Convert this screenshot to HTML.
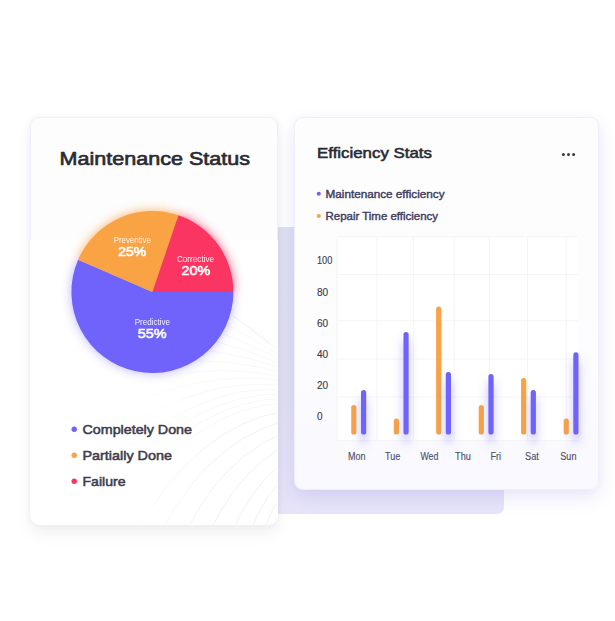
<!DOCTYPE html>
<html lang="en">
<head>
<meta charset="utf-8">
<title>Maintenance Dashboard</title>
<style>
html,body{margin:0;padding:0;}
body{width:615px;height:621px;background:#fff;position:relative;overflow:hidden;font-family:"Liberation Sans",sans-serif;}
.panel{position:absolute;left:262px;top:226.5px;width:242px;height:287px;background:linear-gradient(180deg,#e0e0f3 0%,#e2e0f5 60%,#e7e4fa 100%);border-radius:0 0 7px 0;}
.card{position:absolute;box-sizing:border-box;border-radius:9px;}
.c1{left:29.5px;top:116.5px;width:248px;height:408.5px;background:#fff;box-shadow:0 10px 14px rgba(80,80,120,.07),0 0 4px 2px rgba(80,80,120,.04);}
.c1 .top{position:absolute;box-sizing:border-box;left:0;top:0;width:248px;height:123.5px;background:#fdfdfe;border:1px solid #eeeefc;border-bottom:0;border-radius:9px 9px 0 0;}
.c2{left:293.5px;top:116.5px;width:305px;height:373px;background:linear-gradient(180deg,#fdfdfe 0%,#fdfdfe 55%,#f9f8fe 100%);border:1px solid #eeeefc;box-shadow:0 8px 18px rgba(120,110,220,.16),0 0 8px rgba(120,110,200,.04);}
svg{position:absolute;left:0;top:0;}
text{font-family:"Liberation Sans",sans-serif;}
</style>
</head>
<body>
<div class="panel"></div>
<div class="card c1"><div class="top"></div></div>
<div class="card c2"></div>
<svg width="615" height="621" viewBox="0 0 615 621">
<defs>
<filter id="bglow" x="-400%" y="-30%" width="900%" height="180%"><feDropShadow dx="0" dy="8" stdDeviation="5" flood-color="#6f63fb" flood-opacity=".5"/></filter>
<filter id="pglow" x="-30%" y="-30%" width="160%" height="160%"><feGaussianBlur stdDeviation="5.5"/></filter>
<linearGradient id="fade" gradientUnits="userSpaceOnUse" x1="110" y1="0" x2="215" y2="0"><stop offset="0" stop-color="#e4e7e8" stop-opacity="0"/><stop offset="1" stop-color="#e4e7e8" stop-opacity="1"/></linearGradient>
<clipPath id="c1clip"><rect x="30.5" y="117.5" width="246" height="407" rx="8"/></clipPath>
</defs>
<g clip-path="url(#c1clip)" fill="none" stroke="url(#fade)" stroke-width=".6">
<path d="M282.0,352.9 Q219.0,303.7 119.5,236.6" opacity="1"/>
<path d="M282.0,356.7 Q214.0,313.7 103.9,266.1" opacity="0.55"/>
<path d="M282.0,360.7 Q210.6,322.7 94.4,293.1" opacity="0.55"/>
<path d="M282.0,364.7 Q207.9,331.5 88.5,319.7" opacity="0.55"/>
<path d="M282.0,368.9 Q205.6,340.2 85.7,346.0" opacity="0.55"/>
<path d="M282.0,373.0 Q203.6,348.8 85.8,371.8" opacity="0.55"/>
<path d="M282.0,377.2 Q202.0,357.4 88.6,396.8" opacity="0.55"/>
<path d="M282.0,381.4 Q200.6,366.0 93.8,420.7" opacity="0.55"/>
<path d="M282.0,385.7 Q199.5,374.6 101.3,443.5" opacity="0.55"/>
<path d="M282.0,389.9 Q198.6,383.1 110.7,464.8" opacity="0.55"/>
<path d="M282.0,394.2 Q198.0,391.6 118.1,481.1" opacity="0.55"/>
<path d="M282.0,398.4 Q197.5,400.1 122.2,493.5" opacity="0.55"/>
<path d="M282.0,402.7 Q197.3,408.5 126.7,505.5" opacity="0.55"/>
<path d="M282.0,411.7 Q197.5,426.3 137.2,530.1" opacity="1"/>
<path d="M282.0,421.6 Q198.7,445.4 149.8,555.0" opacity="1"/>
<path d="M282.0,433.5 Q201.3,468.1 166.6,582.9" opacity="1"/>
<path d="M282.0,447.0 Q205.8,493.2 187.5,611.8" opacity="1"/>
<path d="M282.0,462.7 Q212.9,521.5 213.8,641.5" opacity="1"/>
<path d="M282.0,478.2 Q221.9,548.1 241.3,666.5" opacity="1"/>
<path d="M282.0,492.7 Q232.1,571.9 268.7,686.2" opacity="1"/>
<path d="M282.0,504.3 Q241.9,590.4 292.6,699.1" opacity="1"/>
</g>
<!-- chart grid -->
<rect x="337" y="237" width="241" height="204" fill="#fff"/>
<g stroke="#f4f4f8" stroke-width="1">
<path d="M337,236.7H578M337,274.5H578M337,320.8H578M337,359H578M337,397H578M337,440.6H578"/>
<path d="M337,237V441M377,237V441M413.4,237V441M454.3,237V441M489.4,237V441M527.5,237V441M566.2,237V441"/>
</g>
<g>
<rect x="351.20" y="405.00" width="5.2" height="29.50" rx="2.6" fill="#f9a344"/>
<rect x="361.00" y="390.00" width="5.2" height="44.50" rx="2.6" fill="#6f63fb" filter="url(#bglow)"/>
<rect x="393.80" y="418.40" width="5.2" height="16.10" rx="2.6" fill="#f9a344"/>
<rect x="403.45" y="332.00" width="5.2" height="102.50" rx="2.6" fill="#6f63fb" filter="url(#bglow)"/>
<rect x="436.10" y="306.50" width="5.2" height="128.00" rx="2.6" fill="#f9a344"/>
<rect x="445.80" y="372.00" width="5.2" height="62.50" rx="2.6" fill="#6f63fb" filter="url(#bglow)"/>
<rect x="478.70" y="405.00" width="5.2" height="29.50" rx="2.6" fill="#f9a344"/>
<rect x="488.40" y="374.00" width="5.2" height="60.50" rx="2.6" fill="#6f63fb" filter="url(#bglow)"/>
<rect x="521.05" y="378.00" width="5.2" height="56.50" rx="2.6" fill="#f9a344"/>
<rect x="530.70" y="390.00" width="5.2" height="44.50" rx="2.6" fill="#6f63fb" filter="url(#bglow)"/>
<rect x="563.65" y="418.40" width="5.2" height="16.10" rx="2.6" fill="#f9a344"/>
<rect x="573.30" y="352.30" width="5.2" height="82.20" rx="2.6" fill="#6f63fb" filter="url(#bglow)"/>
</g>
<!-- pie -->
<g filter="url(#pglow)" opacity=".85">
<path d="M152.40,292.00 L233.40,292.00 A81.0,81.0 0 0 0 178.50,215.32 Z" fill="#fb3561"/>
<path d="M152.40,292.00 L178.50,215.32 A81.0,81.0 0 0 0 78.12,259.70 Z" fill="#f9a344"/>
<path d="M152.40,292.00 L78.12,259.70 A81.0,81.0 0 1 0 233.40,292.00 Z" fill="#6f63fb" opacity=".55"/>
</g>
<path d="M152.40,292.00 L78.12,259.70 A81.0,81.0 0 1 0 233.40,292.00 Z" fill="#6f63fb"/>
<path d="M152.40,292.00 L178.50,215.32 A81.0,81.0 0 0 0 78.12,259.70 Z" fill="#f9a344"/>
<path d="M152.40,292.00 L233.40,292.00 A81.0,81.0 0 0 0 178.50,215.32 Z" fill="#fb3561"/>
<g fill="#fff" text-anchor="middle">
<text x="132.3" y="242.9" font-size="8.4" opacity=".9" textLength="37.2" lengthAdjust="spacingAndGlyphs">Preventive</text>
<text x="132.2" y="256.2" font-size="12.5" stroke="#fff" stroke-width=".5" textLength="28" lengthAdjust="spacingAndGlyphs">25%</text>
<text x="195.5" y="262.2" font-size="8.4" opacity=".9" textLength="37.2" lengthAdjust="spacingAndGlyphs">Corrective</text>
<text x="195.8" y="275.2" font-size="12.5" stroke="#fff" stroke-width=".5" textLength="28.7" lengthAdjust="spacingAndGlyphs">20%</text>
<text x="152.4" y="324.8" font-size="8.4" opacity=".9" textLength="35.4" lengthAdjust="spacingAndGlyphs">Predictive</text>
<text x="152.1" y="338" font-size="12.5" stroke="#fff" stroke-width=".5" textLength="28.6" lengthAdjust="spacingAndGlyphs">55%</text>
</g>
<!-- left card text -->
<text x="59.6" y="165.1" font-size="18.5" fill="#2a2a31" stroke="#2a2a31" stroke-width=".65" textLength="190.4" lengthAdjust="spacingAndGlyphs">Maintenance Status</text>
<circle cx="74.2" cy="429.2" r="2.7" fill="#6f63fb"/>
<circle cx="74.2" cy="455.2" r="2.7" fill="#f9a344"/>
<circle cx="74.2" cy="481.2" r="2.7" fill="#fb3561"/>
<g font-size="13.5" fill="#3c3d50" stroke="#3c3d50" stroke-width=".55">
<text x="82.5" y="433.9" textLength="109.5" lengthAdjust="spacingAndGlyphs">Completely Done</text>
<text x="82.5" y="459.9" textLength="89.4" lengthAdjust="spacingAndGlyphs">Partially Done</text>
<text x="82.5" y="485.9" textLength="43" lengthAdjust="spacingAndGlyphs">Failure</text>
</g>
<!-- right card text -->
<text x="317" y="158.3" font-size="14.8" fill="#2a2a31" stroke="#2a2a31" stroke-width=".55" textLength="115" lengthAdjust="spacingAndGlyphs">Efficiency Stats</text>
<g fill="#3a3a44"><circle cx="563.4" cy="154.6" r="1.5"/><circle cx="568.5" cy="154.6" r="1.5"/><circle cx="573.6" cy="154.6" r="1.5"/></g>
<circle cx="318.8" cy="193.8" r="2" fill="#6f63fb"/>
<circle cx="318.8" cy="215.9" r="2" fill="#f9a344"/>
<g font-size="10.5" fill="#3f4060" stroke="#3f4060" stroke-width=".4">
<text x="325.5" y="197.7" textLength="119" lengthAdjust="spacingAndGlyphs">Maintenance efficiency</text>
<text x="325.5" y="219.8" textLength="112.5" lengthAdjust="spacingAndGlyphs">Repair Time efficiency</text>
</g>
<g font-size="10" fill="#3d3d4d" stroke="#3d3d4d" stroke-width=".15">
<text x="317" y="264.1" textLength="15.3" lengthAdjust="spacingAndGlyphs">100</text>
<text x="317" y="295.5" textLength="11.2" lengthAdjust="spacingAndGlyphs">80</text>
<text x="317" y="326.8" textLength="11.2" lengthAdjust="spacingAndGlyphs">60</text>
<text x="317" y="357.8" textLength="11.2" lengthAdjust="spacingAndGlyphs">40</text>
<text x="317" y="388.8" textLength="11.2" lengthAdjust="spacingAndGlyphs">20</text>
<text x="317" y="420.3">0</text>
</g>
<g font-size="10" fill="#50516a" stroke="#50516a" stroke-width=".15" text-anchor="middle">
<text x="356.7" y="460.1" textLength="17.4" lengthAdjust="spacingAndGlyphs">Mon</text>
<text x="392.7" y="460.1" textLength="15.2" lengthAdjust="spacingAndGlyphs">Tue</text>
<text x="429.4" y="460.1" textLength="17.9" lengthAdjust="spacingAndGlyphs">Wed</text>
<text x="463" y="460.1" textLength="15.8" lengthAdjust="spacingAndGlyphs">Thu</text>
<text x="495.8" y="460.1" textLength="10.8" lengthAdjust="spacingAndGlyphs">Fri</text>
<text x="531.9" y="460.1" textLength="13.8" lengthAdjust="spacingAndGlyphs">Sat</text>
<text x="568.4" y="460.1" textLength="16.2" lengthAdjust="spacingAndGlyphs">Sun</text>
</g>
</svg>
</body>
</html>
